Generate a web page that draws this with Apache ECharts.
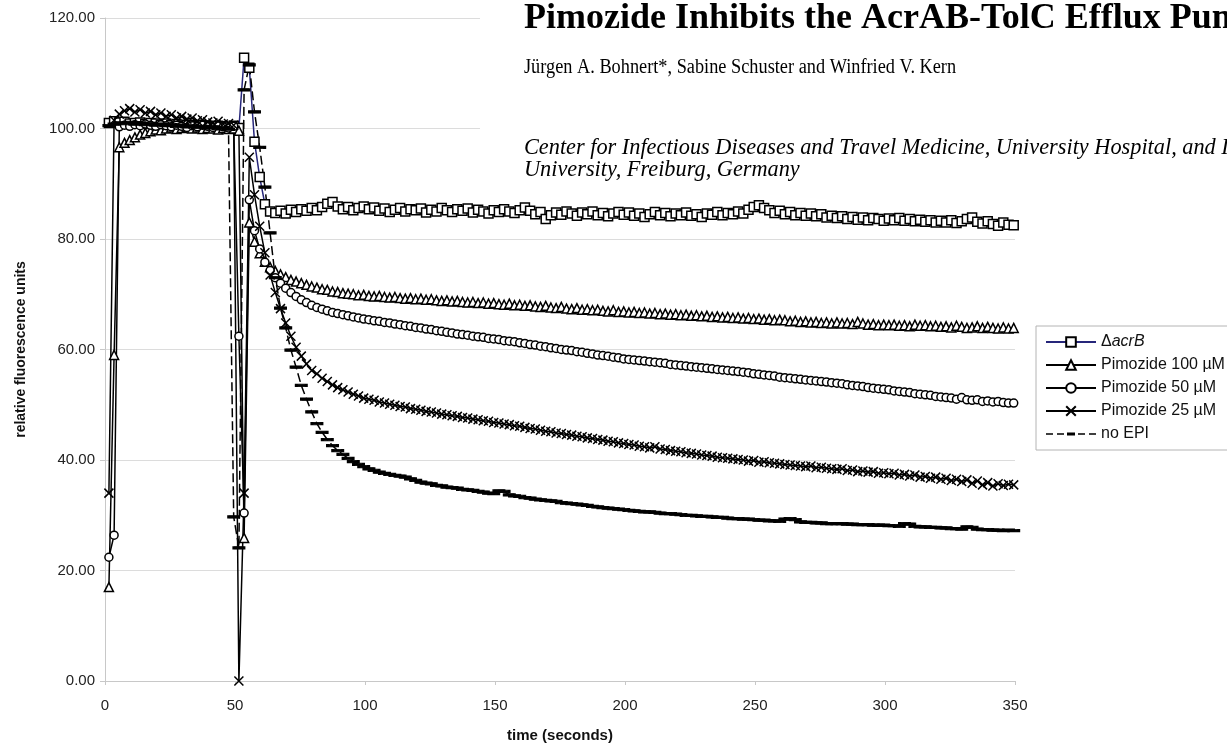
<!DOCTYPE html>
<html>
<head>
<meta charset="utf-8">
<title>Pimozide - efflux assay</title>
<script src="https://cdn.jsdelivr.net/npm/echarts@6/dist/echarts.min.js"></script>
<style>
  html, body { margin: 0; padding: 0; background: #fff; }
  #chart { width: 1227px; height: 744px; }
</style>
</head>
<body>
<div id="chart"></div>
<script>
// sampling: one reading every 2 s starting at 1.5 s
const T0 = 1.5
const DT = 2

const deltaAcrB = [
  101.0, 101.3, 101.1, 101.2, 100.9, 101.0, 101.1, 100.8, 101.0, 100.9,
  100.7, 100.9, 100.6, 100.8, 100.5, 100.7, 100.6, 100.4, 100.6, 100.5,
  100.3, 100.5, 100.4, 100.2, 100.5, 100.1, 112.8, 111.0, 97.6, 91.2,
  86.3, 85.0, 84.7, 85.1, 84.6, 85.3, 84.9, 85.4, 85.1, 85.6,
  85.2, 85.8, 86.4, 86.7, 85.9, 85.4, 85.8, 85.2, 85.6, 85.9,
  85.4, 85.7, 85.1, 85.5, 84.9, 85.3, 85.6, 85.0, 85.4, 85.2,
  85.5, 84.8, 85.3, 85.0, 85.6, 85.2, 84.9, 85.4, 85.1, 85.5,
  84.8, 85.3, 85.0, 84.6, 85.2, 84.9, 85.4, 85.0, 84.7, 85.2,
  85.7, 85.1, 84.5, 84.9, 83.6, 84.3, 84.8, 84.4, 85.0, 84.6,
  84.2, 84.8, 84.5, 85.0, 84.3, 84.7, 84.1, 84.6, 84.9, 84.4,
  84.8, 84.2, 84.6, 84.0, 84.5, 84.9, 84.3, 84.7, 84.1, 84.6,
  84.3, 84.8, 84.2, 84.5, 84.0, 84.6, 84.4, 84.9, 84.3, 84.7,
  84.5, 85.0, 84.6, 85.3, 85.8, 86.1, 85.6, 85.2, 84.7, 85.1,
  84.5, 84.9, 84.3, 84.7, 84.2, 84.6, 84.1, 84.5, 83.9, 84.2,
  83.8, 84.1, 83.6, 84.0, 83.5, 83.9, 83.4, 83.8, 83.6, 83.3,
  83.7, 83.4, 83.8, 83.3, 83.6, 83.2, 83.5, 83.1, 83.4, 83.0,
  83.3, 83.0, 83.4, 82.9, 83.2, 83.6, 83.9, 83.1, 82.8, 83.2,
  82.7, 82.4, 83.0, 82.6, 82.5
]

const pim100 = [
  17.0, 59.0, 96.6, 97.4, 97.9, 98.4, 98.9, 99.2, 99.5, 99.8,
  99.7, 100.0, 100.2, 99.9, 100.1, 100.3, 100.0, 100.2, 99.9, 100.1,
  100.0, 99.8, 100.1, 99.9, 100.0, 99.6, 25.9, 83.0, 79.5, 77.4,
  75.9, 74.9, 74.2, 73.6, 73.1, 72.6, 72.3, 72.0, 71.7, 71.4,
  71.2, 70.9, 70.8, 70.5, 70.4, 70.2, 70.1, 70.0, 69.8, 69.9,
  69.7, 69.6, 69.7, 69.5, 69.4, 69.5, 69.3, 69.2, 69.3, 69.1,
  69.2, 69.0, 69.1, 68.9, 68.8, 68.9, 68.7, 68.8, 68.6, 68.5,
  68.6, 68.4, 68.5, 68.3, 68.4, 68.2, 68.1, 68.3, 68.0, 68.1,
  67.9, 68.0, 67.8, 67.7, 67.9, 67.6, 67.5, 67.7, 67.4, 67.3,
  67.5, 67.2, 67.3, 67.1, 67.2, 67.0, 66.9, 67.1, 66.8, 66.9,
  66.7, 66.8, 66.6, 66.7, 66.5, 66.6, 66.4, 66.5, 66.3, 66.4,
  66.2, 66.3, 66.1, 66.2, 66.0, 66.1, 65.9, 66.0, 65.8, 65.9,
  65.7, 65.8, 65.6, 65.7, 65.5, 65.6, 65.4, 65.5, 65.3, 65.4,
  65.3, 65.1, 65.2, 65.0, 65.1, 64.9, 65.0, 64.8, 64.9, 64.7,
  64.9, 64.7, 64.8, 64.6, 65.0, 64.7, 64.5, 64.6, 64.4, 64.5,
  64.4, 64.5, 64.3, 64.4, 64.2, 64.5, 64.3, 64.4, 64.2, 64.3,
  64.1, 64.2, 64.0, 64.3, 64.1, 63.9, 64.0, 64.2, 63.9, 64.1,
  63.9, 63.8, 64.0, 63.8, 63.9
]

const pim50 = [
  22.4, 26.4, 100.3, 100.6, 100.4, 100.7, 100.5, 100.8, 100.6, 100.4,
  100.7, 100.5, 100.3, 100.6, 100.4, 100.2, 100.5, 100.3, 100.6, 100.4,
  100.2, 100.5, 100.3, 100.1, 100.4, 62.4, 30.4, 87.1, 81.5, 78.2,
  75.8, 74.3, 73.0, 72.0, 71.1, 70.3, 69.6, 69.0, 68.5, 68.0,
  67.6, 67.3, 67.0, 66.7, 66.5, 66.3, 66.1, 65.9, 65.7, 65.5,
  65.4, 65.2, 65.1, 64.9, 64.8, 64.6, 64.5, 64.3, 64.2, 64.0,
  63.9, 63.7, 63.6, 63.4, 63.3, 63.1, 63.0, 62.8, 62.7, 62.6,
  62.4, 62.3, 62.2, 62.0, 61.9, 61.8, 61.6, 61.5, 61.4, 61.2,
  61.1, 60.9, 60.8, 60.6, 60.5, 60.3, 60.2, 60.0, 59.9, 59.8,
  59.6, 59.5, 59.3, 59.2, 59.0, 58.9, 58.8, 58.6, 58.5, 58.3,
  58.2, 58.1, 58.0, 57.9, 57.8, 57.7, 57.6, 57.5, 57.3, 57.2,
  57.1, 57.0, 56.9, 56.8, 56.7, 56.6, 56.5, 56.4, 56.3, 56.2,
  56.1, 56.0, 55.9, 55.8, 55.6, 55.5, 55.4, 55.3, 55.2, 55.0,
  54.9, 54.8, 54.7, 54.6, 54.5, 54.4, 54.3, 54.2, 54.1, 54.0,
  53.9, 53.8, 53.6, 53.5, 53.4, 53.3, 53.1, 53.0, 52.9, 52.8,
  52.7, 52.5, 52.4, 52.3, 52.2, 52.0, 51.9, 51.8, 51.7, 51.5,
  51.4, 51.3, 51.2, 51.0, 51.3, 50.9, 50.8, 50.9, 50.6, 50.7,
  50.5, 50.6, 50.4, 50.3, 50.3
]

const pim25 = [
  34.0, 101.5, 102.6, 103.2, 103.6, 103.0, 103.4, 102.8, 103.1, 102.5,
  102.8, 102.2, 102.5, 101.9, 102.2, 101.7, 101.9, 101.4, 101.6, 101.2,
  101.0, 101.3, 100.8, 100.9, 100.6, 0.0, 34.0, 94.8, 88.0, 82.3,
  77.5, 73.5, 70.3, 67.4, 64.8, 62.4, 60.4, 58.8, 57.4, 56.2,
  55.6, 54.8, 54.2, 53.6, 53.1, 52.7, 52.3, 51.9, 51.6, 51.2,
  51.0, 50.8, 50.5, 50.3, 50.1, 49.9, 49.7, 49.6, 49.3, 49.2,
  49.0, 48.8, 48.7, 48.5, 48.3, 48.2, 48.0, 47.9, 47.7, 47.6,
  47.4, 47.3, 47.1, 47.0, 46.8, 46.7, 46.5, 46.4, 46.2, 46.1,
  45.9, 45.7, 45.6, 45.4, 45.2, 45.1, 44.9, 44.8, 44.6, 44.5,
  44.3, 44.2, 44.0, 43.9, 43.7, 43.6, 43.4, 43.3, 43.1, 43.0,
  42.8, 42.7, 42.5, 42.4, 42.2, 42.4, 42.0, 41.9, 41.7, 41.6,
  41.5, 41.3, 41.2, 41.1, 40.9, 40.8, 40.7, 40.5, 40.4, 40.3,
  40.2, 40.1, 40.0, 39.8, 39.9, 39.6, 39.7, 39.5, 39.4, 39.3,
  39.2, 39.1, 39.0, 38.9, 38.8, 38.9, 38.6, 38.7, 38.5, 38.4,
  38.3, 38.4, 38.1, 38.2, 37.9, 38.0, 37.8, 37.9, 37.6, 37.7,
  37.5, 37.6, 37.3, 37.4, 37.1, 37.3, 36.9, 37.0, 36.7, 36.9,
  36.5, 36.7, 36.3, 36.5, 36.1, 36.4, 35.8, 36.2, 35.5, 35.9,
  35.3, 35.7, 35.4, 35.6, 35.5
]

const noEpi = [
  100.5, 100.8, 101.0, 100.9, 101.1, 100.8, 101.0, 100.7, 100.9, 100.6,
  100.8, 100.5, 100.7, 100.4, 100.6, 100.3, 100.5, 100.2, 100.4, 100.1,
  100.3, 100.0, 100.2, 99.9, 29.7, 24.1, 107.0, 111.5, 103.0, 96.6,
  89.4, 81.1, 73.0, 67.5, 63.9, 59.9, 56.8, 53.5, 51.0, 48.7,
  46.6, 45.0, 43.7, 42.6, 41.7, 41.0, 40.3, 39.7, 39.2, 38.8,
  38.4, 38.1, 37.8, 37.6, 37.4, 37.2, 37.1, 36.9, 36.6, 36.3,
  36.0, 35.8, 35.7, 35.4, 35.3, 35.1, 35.0, 34.9, 34.7, 34.6,
  34.5, 34.3, 34.2, 34.0, 33.9, 34.4, 34.3, 33.7, 33.5, 33.4,
  33.2, 33.1, 32.9, 32.8, 32.7, 32.6, 32.5, 32.3, 32.2, 32.1,
  32.0, 31.9, 31.8, 31.6, 31.5, 31.4, 31.3, 31.2, 31.1, 31.0,
  30.9, 30.8, 30.7, 30.6, 30.6, 30.5, 30.4, 30.3, 30.3, 30.2,
  30.1, 30.0, 30.0, 29.9, 29.8, 29.8, 29.7, 29.6, 29.6, 29.5,
  29.4, 29.4, 29.3, 29.3, 29.2, 29.1, 29.1, 29.0, 29.0, 28.9,
  29.3, 29.4, 29.2, 28.8, 28.7, 28.7, 28.6, 28.6, 28.5, 28.5,
  28.5, 28.5, 28.4, 28.4, 28.3, 28.3, 28.3, 28.2, 28.2, 28.2,
  28.1, 28.1, 28.0, 28.5, 28.4, 28.0, 27.9, 27.9, 27.8, 27.8,
  27.7, 27.7, 27.6, 27.6, 27.5, 27.9, 27.8, 27.5, 27.4, 27.4,
  27.3, 27.3, 27.2, 27.3, 27.2
]

const seriesNames = ['ΔacrB', 'Pimozide 100 µM', 'Pimozide 50 µM', 'Pimozide 25 µM', 'no EPI']
const yTicks = [0, 20, 40, 60, 80, 100, 120]
const xTicks = [0, 50, 100, 150, 200, 250, 300, 350]

const time = deltaAcrB.map((_, i) => T0 + i * DT)
const pairs = vals => vals.map((v, i) => [time[i], v])

const CROSS = 'path://M0,0L10,10M10,0L0,10'
// legend key for the dashed series: dashes with a bold dash marker in the middle
const DASH_KEY = 'path://M0,0.8H7V2.2H0Z M11,0.8H18V2.2H11Z M21,0H29V3H21Z M32,0.8H39V2.2H32Z M43,0.8H50V2.2H43Z'
const SANS = '"Liberation Sans", Arial, sans-serif'
const SERIF = '"Liberation Serif", "Times New Roman", serif'

function makeSeries(name, vals, symbol, size, lineColor, dashed, fill) {
  return {
    name,
    type: 'line',
    data: pairs(vals),
    symbol,
    symbolSize: size,
    showAllSymbol: true,
    lineStyle: { color: lineColor, width: 1.5, type: dashed ? [9, 4] : 'solid' },
    itemStyle: { color: fill, borderColor: '#000', borderWidth: 1.5 },
    emphasis: { disabled: true }
  }
}

const chart = echarts.init(document.getElementById('chart'))

chart.setOption({
  animation: false,
  backgroundColor: '#fff',
  grid: { left: 105, right: 212, top: 18, bottom: 63, outerBoundsMode: 'none' },
  xAxis: {
    type: 'value',
    min: xTicks[0],
    max: xTicks[xTicks.length - 1],
    interval: 50,
    name: 'time (seconds)',
    nameLocation: 'middle',
    nameGap: 47,
    nameTextStyle: { fontFamily: SANS, fontSize: 15, fontWeight: 'bold', color: '#111' },
    axisLine: { lineStyle: { color: '#c8c8c8' } },
    axisTick: { show: true, length: 4, lineStyle: { color: '#c8c8c8' } },
    axisLabel: { fontFamily: SANS, fontSize: 15, color: '#222', margin: 17 },
    splitLine: { show: false }
  },
  yAxis: {
    type: 'value',
    min: yTicks[0],
    max: yTicks[yTicks.length - 1],
    interval: 20,
    name: 'relative fluorescence units',
    nameLocation: 'middle',
    nameGap: 77,
    nameTextStyle: { fontFamily: SANS, fontSize: 14, fontWeight: 'bold', color: '#111' },
    axisLine: { show: true, lineStyle: { color: '#c8c8c8' } },
    axisTick: { show: true, length: 5, lineStyle: { color: '#c8c8c8' } },
    axisLabel: { fontFamily: SANS, fontSize: 15, color: '#222', margin: 10, formatter: v => v.toFixed(2) },
    splitLine: { lineStyle: { color: '#dcdcdc', width: 1 } }
  },
  legend: {
    orient: 'vertical',
    left: 1036,
    top: 326,
    padding: [8, 60, 8, 9],
    itemWidth: 50,
    itemHeight: 12,
    itemGap: 7,
    backgroundColor: '#fff',
    borderColor: '#b4b4b4',
    borderWidth: 1,
    data: [
      { name: seriesNames[0] },
      { name: seriesNames[1] },
      { name: seriesNames[2] },
      { name: seriesNames[3] },
      { name: seriesNames[4], icon: DASH_KEY, itemStyle: { color: '#000', borderWidth: 0 } }
    ],
    formatter: n => n === 'ΔacrB' ? '{d|Δ}{i|acrB}' : n,
    textStyle: {
      fontFamily: SANS, fontSize: 16, color: '#111', lineHeight: 16,
      rich: {
        d: { fontFamily: SANS, fontSize: 16, color: '#111' },
        i: { fontFamily: SANS, fontSize: 16, color: '#111', fontStyle: 'italic' }
      }
    }
  },
  graphic: [
    {
      type: 'rect', z: 1, silent: true,
      shape: { x: 480, y: 0, width: 747, height: 192 },
      style: { fill: '#fff' }
    },
    {
      type: 'text', z: 2, x: 524, y: 19,
      style: { text: 'Pimozide Inhibits the AcrAB-TolC Efflux Pump in Escherichia coli', font: 'bold 36px ' + SERIF, fill: '#000', verticalAlign: 'middle' }
    },
    {
      type: 'text', z: 2, x: 524, y: 68, scaleX: 0.915,
      style: { text: 'Jürgen A. Bohnert*, Sabine Schuster and Winfried V. Kern', font: '20px ' + SERIF, fill: '#000', verticalAlign: 'middle' }
    },
    {
      type: 'text', z: 2, x: 524, y: 148,
      style: { text: 'Center for Infectious Diseases and Travel Medicine, University Hospital, and Institute of Medical Microbiology', font: 'italic 22.3px ' + SERIF, fill: '#000', verticalAlign: 'middle' }
    },
    {
      type: 'text', z: 2, x: 524, y: 170,
      style: { text: 'University, Freiburg, Germany', font: 'italic 22.3px ' + SERIF, fill: '#000', verticalAlign: 'middle' }
    }
  ],
  series: [
    makeSeries(seriesNames[0], deltaAcrB, 'rect', 9, '#26267a', false, '#fff'),
    makeSeries(seriesNames[1], pim100, 'triangle', 9, '#000', false, '#fff'),
    makeSeries(seriesNames[2], pim50, 'circle', 8, '#000', false, '#fff'),
    makeSeries(seriesNames[3], pim25, CROSS, 9, '#000', false, '#000'),
    makeSeries(seriesNames[4], noEpi, 'rect', [10, 2.5], '#000', true, '#000')
  ]
})
</script>
</body>
</html>
